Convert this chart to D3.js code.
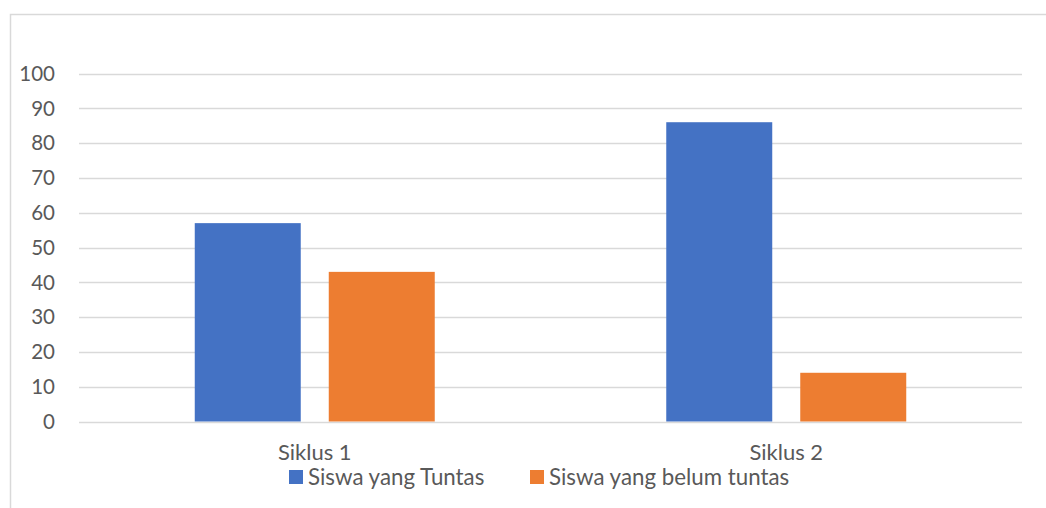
<!DOCTYPE html>
<html>
<head>
<meta charset="utf-8">
<script src="https://cdn.jsdelivr.net/npm/d3@7"></script>
<style>
  body { margin: 0; background: #fff; }
  text { font-family: Lato, "Open Sans", sans-serif; fill: #595959; }
</style>
</head>
<body>
<div id="chart"></div>
<script>
const categories = ["Siklus 1", "Siklus 2"];
const series = ["Siswa yang Tuntas", "Siswa yang belum tuntas"];
const colors = ["#4472C4", "#ED7D31"];
const tuntas = [57, 86];
const belumTuntas = [43, 14];
const yTicks = [0, 10, 20, 30, 40, 50, 60, 70, 80, 90, 100];

const width = 1046, height = 508;
const svg = d3.select("#chart").append("svg")
  .attr("width", width)
  .attr("height", height);

// chart border (only left / top visible in the reference)
svg.append("rect")
  .attr("x", 10.5).attr("y", 14.5)
  .attr("width", 1100).attr("height", 600)
  .attr("fill", "none")
  .attr("stroke", "#D9D9D9")
  .attr("stroke-width", 1.5);

const plot = { left: 79, right: 1022, top: 73.5, bottom: 421.5 };

const y = d3.scaleLinear().domain([0, 100]).range([plot.bottom, plot.top]);
const x0 = d3.scaleBand().domain(categories)
  .range([plot.left, plot.right])
  .paddingInner(0.491).paddingOuter(0.2455);
const x1 = d3.scaleBand().domain(series)
  .range([0, x0.bandwidth()])
  .paddingInner(0.209);

// gridlines
svg.append("g")
  .selectAll("line")
  .data(yTicks)
  .join("line")
  .attr("x1", plot.left).attr("x2", plot.right)
  .attr("y1", d => Math.round(y(d)) + 0.5)
  .attr("y2", d => Math.round(y(d)) + 0.5)
  .attr("stroke", "#D9D9D9")
  .attr("stroke-width", 1.5);

// y labels
svg.append("g")
  .selectAll("text")
  .data(yTicks)
  .join("text")
  .attr("x", 55)
  .attr("y", d => y(d))
  .attr("dy", "0.36em")
  .attr("text-anchor", "end")
  .attr("font-size", 20.5)
  .text(d => d);

// bars
const rows = categories.map((c, i) => ({ cat: c, values: [tuntas[i], belumTuntas[i]] }));
const groups = svg.append("g")
  .selectAll("g")
  .data(rows)
  .join("g")
  .attr("transform", d => `translate(${x0(d.cat)},0)`);

groups.selectAll("rect")
  .data(d => d.values.map((v, j) => ({ key: series[j], value: v, color: colors[j] })))
  .join("rect")
  .attr("x", d => x1(d.key))
  .attr("y", d => y(d.value))
  .attr("width", x1.bandwidth())
  .attr("height", d => y(0) - y(d.value))
  .attr("fill", d => d.color);

// x labels
svg.append("g")
  .selectAll("text")
  .data(categories)
  .join("text")
  .attr("x", d => x0(d) + x0.bandwidth() / 2)
  .attr("y", 460)
  .attr("text-anchor", "middle")
  .attr("font-size", 22)
  .text(d => d);

// legend
const legendX = [289, 530];
const legend = svg.append("g")
  .selectAll("g")
  .data(series)
  .join("g")
  .attr("transform", (d, i) => `translate(${legendX[i]},470)`);

legend.append("rect")
  .attr("width", 14).attr("height", 14)
  .attr("fill", (d, i) => colors[i]);

legend.append("text")
  .attr("x", 19)
  .attr("y", 14.5)
  .attr("font-size", 22.3)
  .text(d => d);
</script>
</body>
</html>
